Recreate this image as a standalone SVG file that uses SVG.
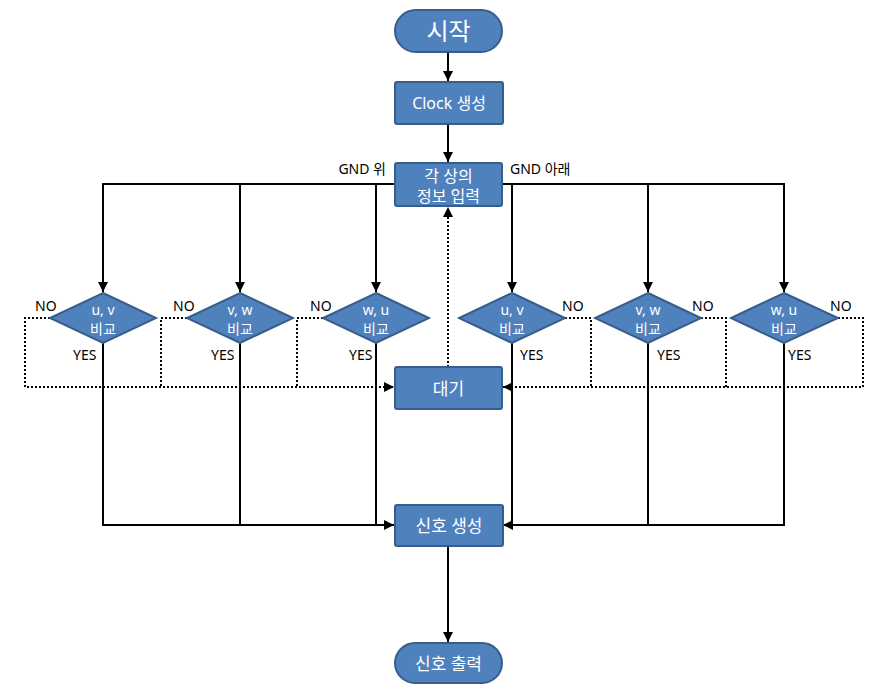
<svg xmlns="http://www.w3.org/2000/svg" width="890" height="693" viewBox="0 0 890 693">
<style>
.n{fill:#4F81BD;stroke:#385D8A;stroke-width:2}
.t{fill:#fff;font-family:"Noto Sans","Noto Sans CJK KR",sans-serif;text-anchor:middle}
.l{fill:#000;font-family:"Noto Sans","Noto Sans CJK KR",sans-serif;font-size:14px}
.c{fill:none;stroke:#000;stroke-width:2}
.d{fill:none;stroke:#000;stroke-width:2;stroke-dasharray:2,2}
</style>
<defs>
<marker id="a" viewBox="0 0 10 10" refX="10" refY="5" markerWidth="5" markerHeight="5" orient="auto" markerUnits="strokeWidth">
<path d="M0,0L10,5L0,10z" fill="#000"/>
</marker>
</defs>
<rect width="890" height="693" fill="#fff"/>
<g id="connectors">
<path class="c" d="M448,52V81" marker-end="url(#a)"/>
<path class="c" d="M448,124V162" marker-end="url(#a)"/>
<path class="c" d="M395,184H103V292" marker-end="url(#a)"/>
<path class="c" d="M240,184V292" marker-end="url(#a)"/>
<path class="c" d="M376,184V292" marker-end="url(#a)"/>
<path class="c" d="M502,184H784V292" marker-end="url(#a)"/>
<path class="c" d="M512,184V292" marker-end="url(#a)"/>
<path class="c" d="M648,184V292" marker-end="url(#a)"/>
<path class="d" d="M448,367V207" marker-end="url(#a)"/>
<path class="d" d="M50,318H25V387H394" marker-end="url(#a)"/>
<path class="d" d="M187,318H161V387"/>
<path class="d" d="M323,318H297V387"/>
<path class="d" d="M565,318H591V387"/>
<path class="d" d="M701,318H726V387"/>
<path class="d" d="M838,318H863V387H503" marker-end="url(#a)"/>
<path class="c" d="M103,343V525H394" marker-end="url(#a)"/>
<path class="c" d="M240,343V525M376,343V525"/>
<path class="c" d="M784,343V525H503" marker-end="url(#a)"/>
<path class="c" d="M512,343V525M648,343V525"/>
<path class="c" d="M448,546V642" marker-end="url(#a)"/>
</g>
<g id="start"><rect class="n" x="395" y="10" width="107" height="42" rx="21"/><text class="t" x="448.5" y="40" font-size="24">시작</text></g>
<g id="clock"><rect class="n" x="395" y="82" width="108" height="42" rx="2"/><text class="t" x="449" y="109" font-size="16">Clock 생성</text></g>
<g id="input"><rect class="n" x="395" y="163" width="107" height="43" rx="2"/><text class="t" x="448.5" y="182" font-size="16">각 상의</text><text class="t" x="448.5" y="202" font-size="16">정보 입력</text></g>
<g id="wait"><rect class="n" x="395" y="367" width="107" height="42" rx="2"/><text class="t" x="448.5" y="395" font-size="17">대기</text></g>
<g id="gen"><rect class="n" x="395" y="505" width="108" height="41" rx="2"/><text class="t" x="449" y="532" font-size="17">신호 생성</text></g>
<g id="out"><rect class="n" x="395" y="643" width="107" height="40" rx="20"/><text class="t" x="448.5" y="670" font-size="17">신호 출력</text></g>
<g id="d1"><path class="n" d="M103,293L156,318L103,343L50,318z"/><text class="t" x="103" y="315" font-size="14">u, v</text><text class="t" x="103" y="334" font-size="14">비교</text></g>
<g id="d2"><path class="n" d="M240,293L293,318L240,343L187,318z"/><text class="t" x="240" y="315" font-size="14">v, w</text><text class="t" x="240" y="334" font-size="14">비교</text></g>
<g id="d3"><path class="n" d="M376,293L429,318L376,343L323,318z"/><text class="t" x="376" y="315" font-size="14">w, u</text><text class="t" x="376" y="334" font-size="14">비교</text></g>
<g id="d4"><path class="n" d="M512,293L565,318L512,343L459,318z"/><text class="t" x="512" y="315" font-size="14">u, v</text><text class="t" x="512" y="334" font-size="14">비교</text></g>
<g id="d5"><path class="n" d="M648,293L701,318L648,343L595,318z"/><text class="t" x="648" y="315" font-size="14">v, w</text><text class="t" x="648" y="334" font-size="14">비교</text></g>
<g id="d6"><path class="n" d="M784,293L838,318L784,343L731,318z"/><text class="t" x="784" y="315" font-size="14">w, u</text><text class="t" x="784" y="334" font-size="14">비교</text></g>
<g id="labels">
<text class="l" x="386" y="174" text-anchor="end">GND 위</text>
<text class="l" x="510" y="174">GND 아래</text>
<text class="l" x="35" y="311">NO</text>
<text class="l" x="173" y="311">NO</text>
<text class="l" x="310" y="311">NO</text>
<text class="l" x="562" y="311">NO</text>
<text class="l" x="692" y="311">NO</text>
<text class="l" x="830" y="311">NO</text>
<text class="l" x="73" y="360">YES</text>
<text class="l" x="211" y="360">YES</text>
<text class="l" x="349" y="360">YES</text>
<text class="l" x="520" y="360">YES</text>
<text class="l" x="657" y="360">YES</text>
<text class="l" x="788" y="360">YES</text>
</g>
</svg>
